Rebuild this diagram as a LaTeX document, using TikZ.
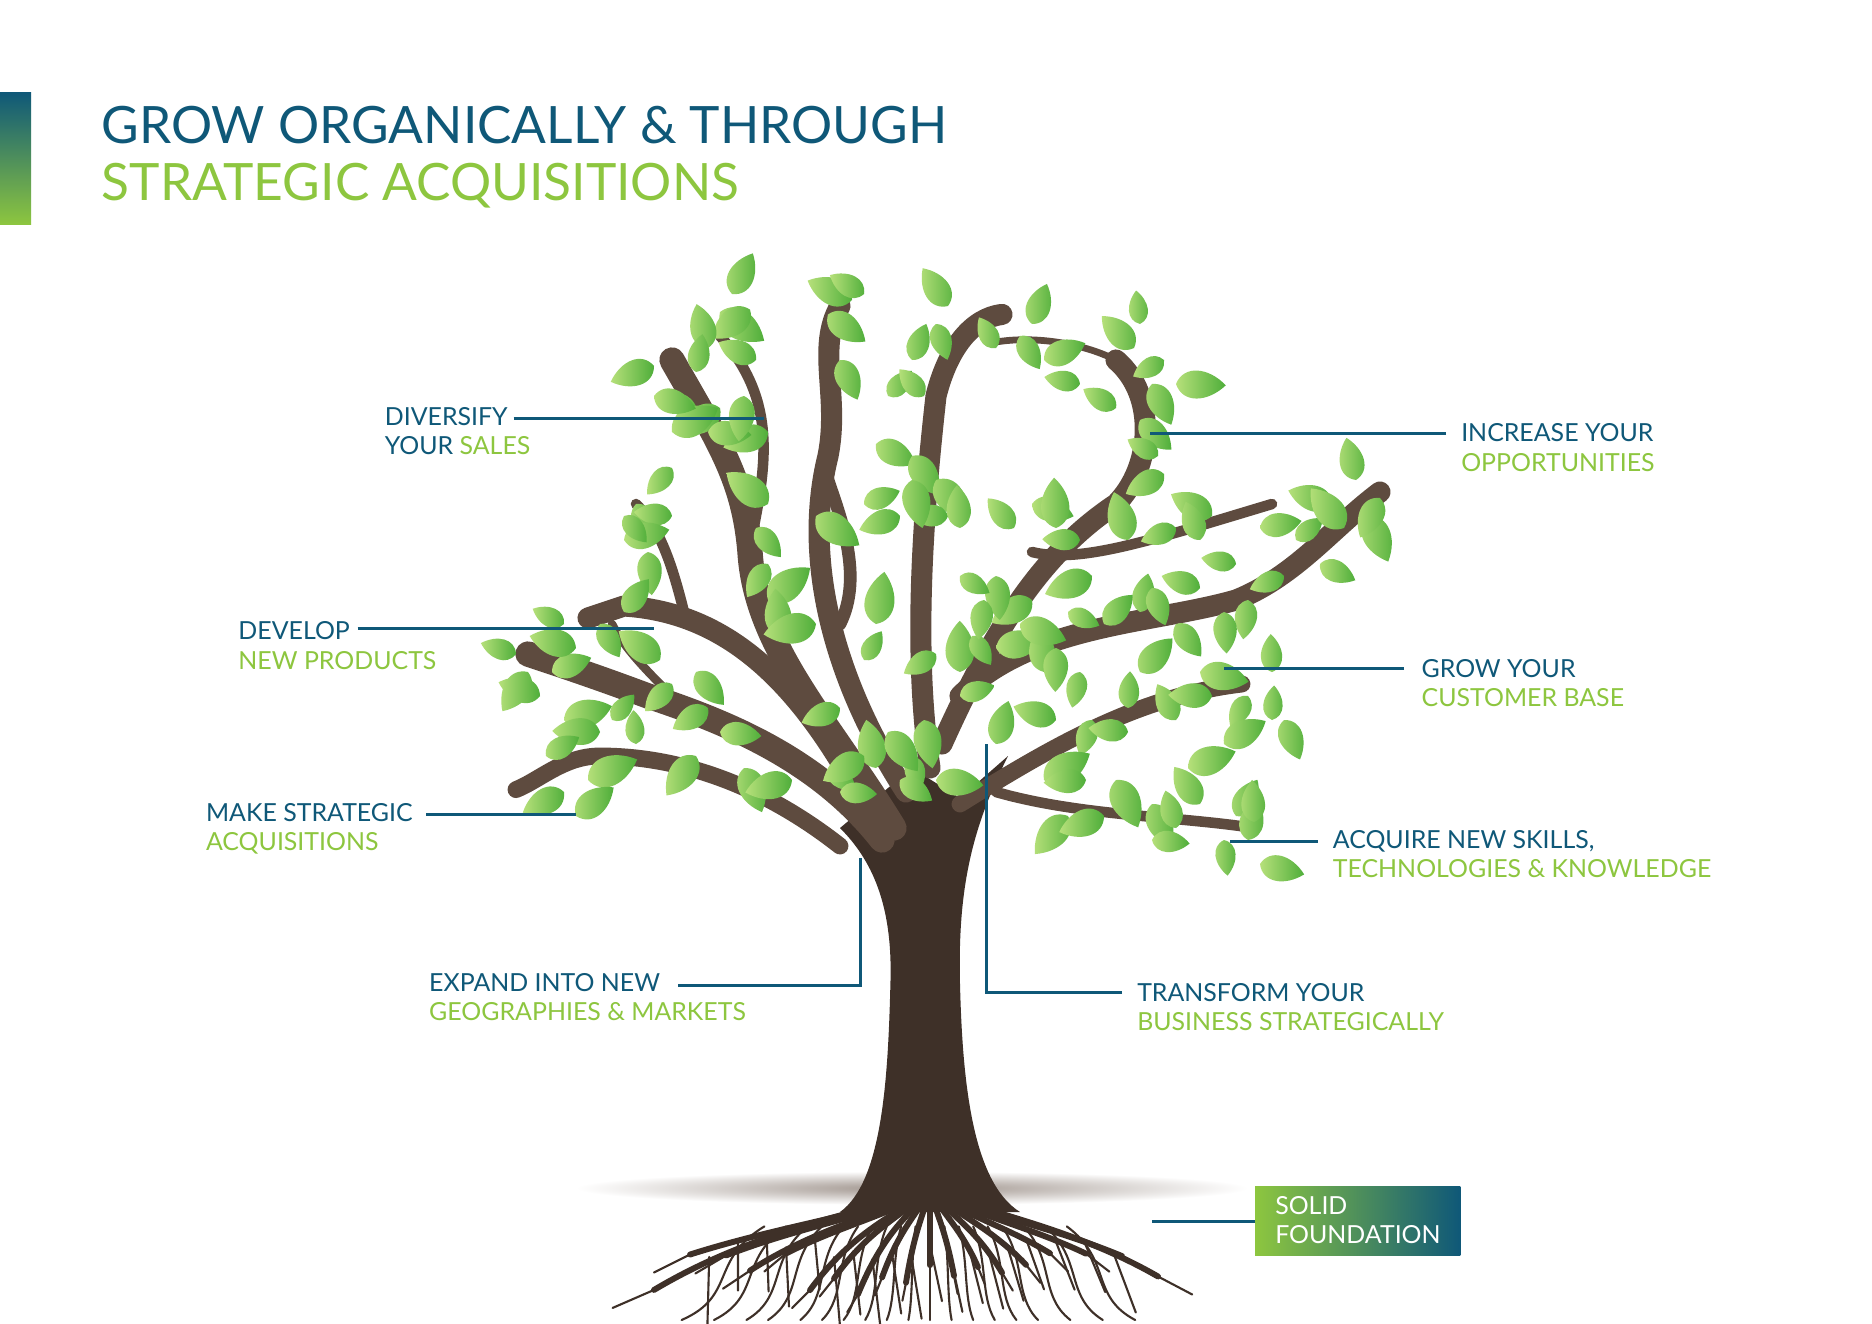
\documentclass[tikz,border=0pt]{standalone}
\usepackage{fontspec}
\setmainfont{Lato}
\usetikzlibrary{shapes.geometric}
\definecolor{dblue}{HTML}{0F5878}
\definecolor{lgreen}{HTML}{8DC63F}
\definecolor{bark}{HTML}{3E3028}
\definecolor{barkl}{HTML}{5E4B3F}
\definecolor{leafA}{HTML}{B6E07A}
\definecolor{leafB}{HTML}{4FAE3A}
\begin{document}
\begin{tikzpicture}[x=0.01cm,y=-0.01cm,
  lbl/.style={font=\fontsize{5.9}{6.9}\selectfont,align=left,inner sep=0,text=dblue},
  lead/.style={dblue,line width=0.7pt},
  br/.style={barkl,line cap=round,line join=round},
  root/.style={bark,line width=0.5pt,line cap=round}]
\useasboundingbox (0,0) rectangle (1560,1103);
\fill[white] (0,0) rectangle (1560,1103);
% side bar
\shade[top color=dblue,bottom color=lgreen] (0,77) rectangle (26,187);
\node[anchor=base west,inner sep=0,text=dblue,font=\fontsize{12.2}{14}\selectfont] (t1) at (84,120) {GROW ORGANICALLY \& THROUGH};
\node[anchor=base west,inner sep=0,text=lgreen,font=\fontsize{12.2}{14}\selectfont] (t2) at (84,167) {STRATEGIC ACQUISITIONS};
% ground shadow
\shade[inner color=barkl!60,outer color=white] (760,990) ellipse (280 and 14);
% roots
\pgfmathsetseed{7}
\foreach \a in {-230,-200,-170,-150,-120,-100,-80,-60,-40,-20,0,20,40,60,80,100,130,160,190}{
  \pgfmathsetmacro{\r}{rnd*40}
  \draw[root,line width=1.4pt] (775,990) .. controls (775+\a*0.2,1010) and (775+\a*0.6,1020) .. (775+\a,1040+\r);
  \draw[root] (775+\a*0.6,1022) .. controls (775+\a*0.8,1050) and (775+\a*0.7,1080) .. (775+\a*0.9,1100);
  \draw[root] (775+\a,1040+\r) -- (775+\a*1.15,1055+\r);
  \draw[root] (775+\a*0.8,1030+\r*0.5) -- (775+\a*0.85+10,1070+\r);
}
% trunk
\fill[bark] (700,1010) .. controls (735,985) and (740,900) .. (742,820) .. controls (744,760) and (730,720) .. (700,690) -- (760,640) -- (800,665) -- (840,630) .. controls (810,690) and (798,740) .. (800,820) .. controls (802,900) and (810,985) .. (850,1010) -- cycle;
% branches
\draw[br,line width=6pt] (745,690) .. controls (690,600) and (630,540) .. (625,460) .. controls (620,400) and (600,370) .. (560,300);
\draw[br,line width=2.5pt] (628,440) .. controls (640,380) and (645,330) .. (600,280);
\draw[br,line width=5pt] (755,660) .. controls (690,560) and (670,460) .. (690,380) .. controls (700,330) and (680,290) .. (700,255);
\draw[br,line width=3pt] (690,400) .. controls (700,430) and (720,480) .. (700,520);
\draw[br,line width=5pt] (775,640) .. controls (760,540) and (770,420) .. (780,330) .. controls (790,290) and (810,265) .. (835,262);
\draw[br,line width=5pt] (785,620) .. controls (830,520) and (870,460) .. (930,420) .. controls (960,390) and (965,330) .. (930,300);
\draw[br,line width=1.6pt] (930,300) .. controls (900,285) and (860,280) .. (830,285);
\draw[br,line width=5pt] (800,580) .. controls (860,520) and (960,520) .. (1030,500) .. controls (1080,480) and (1110,440) .. (1150,410);
\draw[br,line width=2.5pt] (860,460) .. controls (900,470) and (960,450) .. (1060,420);
\draw[br,line width=4pt] (800,670) .. controls (880,620) and (950,580) .. (1035,570);
\draw[br,line width=2.5pt] (830,660) .. controls (900,680) and (980,680) .. (1045,690);
\draw[br,line width=6pt] (735,700) .. controls (680,630) and (600,600) .. (540,580) .. controls (500,565) and (470,555) .. (440,545);
\draw[br,line width=5pt] (715,660) .. controls (660,560) and (600,510) .. (520,505) -- (490,515);
\draw[br,line width=2.5pt] (570,510) .. controls (560,470) and (550,440) .. (530,420);
\draw[br,line width=4pt] (700,705) .. controls (630,650) and (560,630) .. (500,630) .. controls (470,630) and (450,650) .. (430,658);
\draw[br,line width=2pt] (560,580) .. controls (540,560) and (520,540) .. (510,520);
% leaves
\pgfmathsetseed{11}
\foreach \x/\y in {600/260,625/258,590/290,630/300,545/305,560/330,600/340,640/360,560/360,590/360,710/250,690/262,780/270,760/300,830/290,850/280,870/300,900/320,945/290,970/300,930/340,950/350,965/380,970/395,740/330,770/330,730/370,760/380,780/400,720/420,750/430,790/430,530/420,560/430,520/450,540/460,630/440,640/420,860/420,880/440,900/450,940/450,980/440,1010/430,1050/440,1080/450,1110/420,1130/400,1140/430,1070/480,1040/500,1000/490,980/520,950/510,920/520,890/510,860/500,830/480,800/480,830/540,800/560,780/545,640/500,650/530,680/520,730/520,720/550,470/520,500/520,520/510,430/545,460/560,450/580,480/540,550/550,560/570,580/560,470/600,500/610,530/620,580/630,600/610,620/640,690/640,700/660,730/640,760/630,780/650,740/610,490/650,470/660,480/680,910/600,940/610,980/600,1010/580,1040/580,1060/600,1000/560,1020/620,870/650,890/680,920/680,960/670,1000/670,1030/680,1040/700,1050/720,1020/700,930/650,960/700,800/580,810/530,820/500,700/300,620/330,680/430,960/320,1030/470,1100/470,910/480,870/560,560/390,640/470,700/590,770/600,900/560,950/560,990/640,610/245,720/245,790/255,860/270,950/270,980/320,1000/450,1120/440,1150/415,580/310,545/330,520/430,440/560,455/630,510/600,590/590,660/650,720/630,750/650,850/520,880/540,960/490,1020/510,1060/560,1070/600,940/590,905/650,980/690,1045/685,760/400,800/440,845/440,880/600,830/620}{
  \pgfmathsetmacro{\ang}{rnd*360}
  \pgfmathsetmacro{\sc}{1.0+rnd*0.6}
  \shade[left color=leafA,right color=leafB,shift={(\x,\y)},rotate=\ang,scale=\sc]
    (0,0) .. controls (11,-4) and (10,-18) .. (0,-28) .. controls (-10,-18) and (-11,-4) .. (0,0);
}
% labels
\node[lbl,anchor=west] (l1) at (320,359) {DIVERSIFY\\YOUR \textcolor{lgreen}{SALES}};
\coordinate (l1e) at (637,349);
\draw[lead] (428,349) -- (l1e);
\node[lbl,anchor=west] (r1) at (1217,373) {INCREASE YOUR\\\textcolor{lgreen}{OPPORTUNITIES}};
\coordinate (r1e) at (958,361);
\draw[lead] (1205,361) -- (r1e);
\node[lbl,anchor=west] (l2) at (198,538) {DEVELOP\\\textcolor{lgreen}{NEW PRODUCTS}};
\coordinate (l2e) at (545,524);
\draw[lead] (298,524) -- (l2e);
\node[lbl,anchor=west] (r2) at (1184,569) {GROW YOUR\\\textcolor{lgreen}{CUSTOMER BASE}};
\coordinate (r2e) at (1020,557);
\draw[lead] (1170,557) -- (r2e);
\node[lbl,anchor=west] (l3) at (171,691) {MAKE STRATEGIC\\\textcolor{lgreen}{ACQUISITIONS}};
\coordinate (l3e) at (480,679);
\draw[lead] (355,679) -- (l3e);
\node[lbl,anchor=west] (r3) at (1110,712) {ACQUIRE NEW SKILLS,\\\textcolor{lgreen}{TECHNOLOGIES \& KNOWLEDGE}};
\coordinate (r3e) at (1025,701);
\draw[lead] (1098,701) -- (r3e);
\node[lbl,anchor=west] (l4) at (357,831) {EXPAND INTO NEW\\\textcolor{lgreen}{GEOGRAPHIES \& MARKETS}};
\coordinate (l4e) at (717,715);
\draw[lead] (565,821) -- (717,821) -- (l4e);
\node[lbl,anchor=west] (r4) at (947,839) {TRANSFORM YOUR\\\textcolor{lgreen}{BUSINESS STRATEGICALLY}};
\coordinate (r4e) at (822,620);
\draw[lead] (935,827) -- (822,827) -- (r4e);
\shade[left color=lgreen,right color=dblue] (1046,989) rectangle (1217,1046);
\node[lbl,text=white,anchor=west] (sf) at (1062,1017) {SOLID\\FOUNDATION};
\coordinate (sfe) at (960,1018);
\draw[lead] (1046,1018) -- (sfe);
\end{tikzpicture}
\end{document}
